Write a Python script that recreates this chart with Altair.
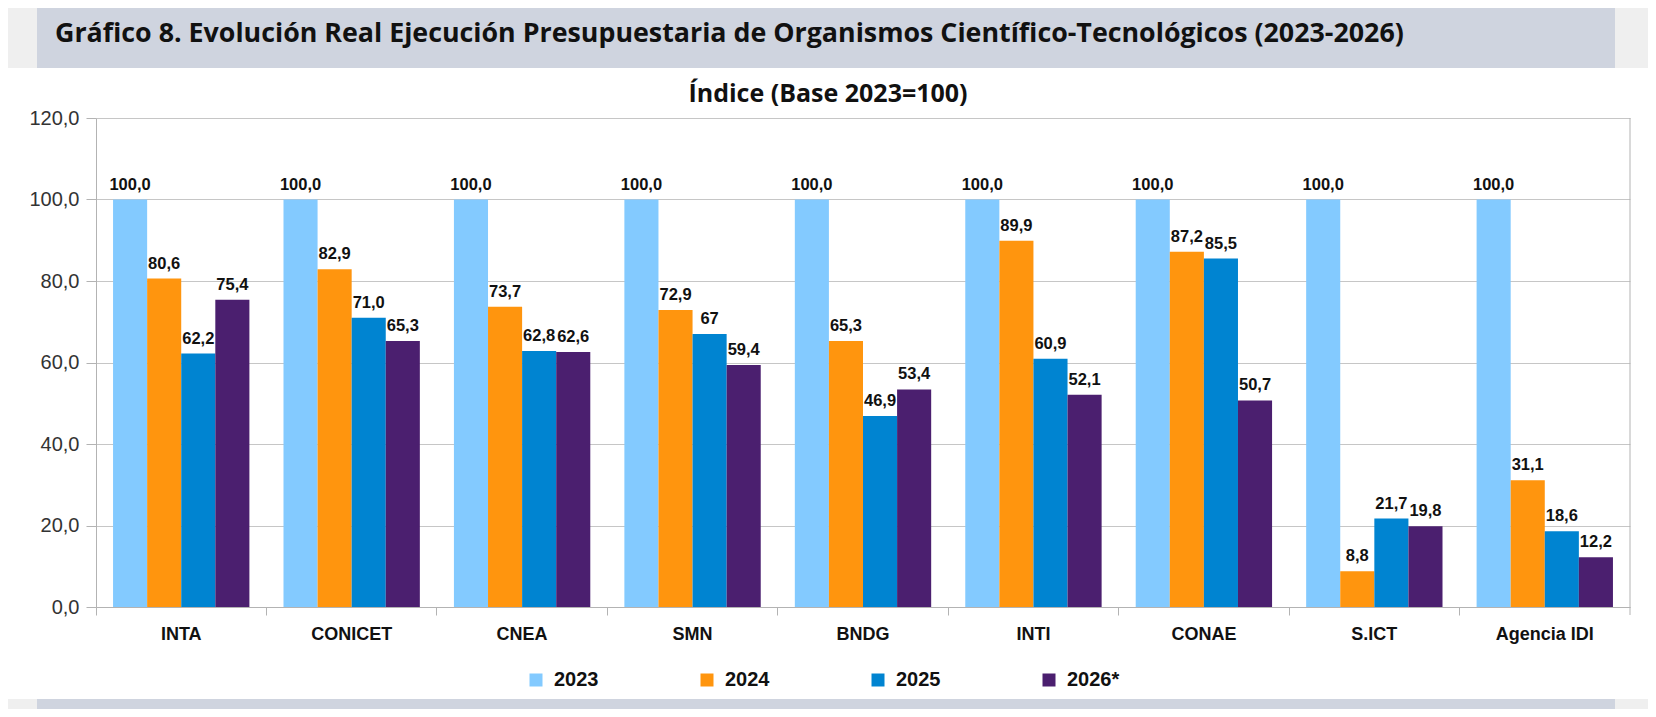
import altair as alt
import pandas as pd

# organismos y años
orgs = ["INTA", "CONICET", "CNEA", "SMN", "BNDG", "INTI", "CONAE", "S.ICT", "Agencia IDI"]
years = ["2023", "2024", "2025", "2026*"]
colors = ["#83caff", "#ff950e", "#0084d1", "#4b1f6f"]

# indice base 2023 = 100 (el 67 de SMN viene sin decimal en el original)
v2023 = [100.0, 100.0, 100.0, 100.0, 100.0, 100.0, 100.0, 100.0, 100.0]
v2024 = [80.6, 82.9, 73.7, 72.9, 65.3, 89.9, 87.2, 8.8, 31.1]
v2025 = [62.2, 71.0, 62.8, 67, 46.9, 60.9, 85.5, 21.7, 18.6]
v2026 = [75.4, 65.3, 62.6, 59.4, 53.4, 52.1, 50.7, 19.8, 12.2]

titulo = "Gráfico 8. Evolución Real Ejecución Presupuestaria de Organismos Científico-Tecnológicos (2023-2026)"
subtitulo = "Índice (Base 2023=100)"


def etiqueta(v):
    if isinstance(v, int):
        return str(v)
    return f"{v:.1f}".replace(".", ",")


rows = []
for serie, year in zip([v2023, v2024, v2025, v2026], years):
    for org, v in zip(orgs, serie):
        rows.append({"org": org, "year": year, "value": float(v), "label": etiqueta(v)})
df = pd.DataFrame(rows)
one = pd.DataFrame({"k": [0]})

W, H = 1534, 489

# fondo: franjas grises arriba y abajo, con las bandas gris azulado encima
gris_sup = alt.Chart(one).mark_rect(color="#efefef").encode(
    x=alt.value(-88), x2=alt.value(1552), y=alt.value(-110), y2=alt.value(-50)
)
gris_inf = alt.Chart(one).mark_rect(color="#efefef").encode(
    x=alt.value(-88), x2=alt.value(1552), y=alt.value(581), y2=alt.value(591)
)
banda_sup = alt.Chart(one).mark_rect(color="#cfd4df").encode(
    x=alt.value(-59), x2=alt.value(1519), y=alt.value(-110), y2=alt.value(-50)
)
banda_inf = alt.Chart(one).mark_rect(color="#cfd4df").encode(
    x=alt.value(-59), x2=alt.value(1519), y=alt.value(581), y2=alt.value(591)
)
txt_titulo = alt.Chart(one).mark_text(
    align="left", baseline="alphabetic", font="Open Sans", fontSize=26.8,
    fontWeight="bold", color="#111111"
).encode(x=alt.value(-41), y=alt.value(-76), text=alt.value(titulo))
txt_sub = alt.Chart(one).mark_text(
    align="center", baseline="alphabetic", font="Open Sans", fontSize=25,
    fontWeight="bold", color="#111111"
).encode(x=alt.value(732), y=alt.value(-16), text=alt.value(subtitulo))
borde_der = alt.Chart(one).mark_rule(color="#b3b3b3").encode(
    x=alt.value(W), y=alt.value(0), y2=alt.value(H + 8)
)

x_enc = alt.X(
    "org:N", sort=orgs, title=None,
    scale=alt.Scale(paddingInner=0, paddingOuter=0),
    axis=alt.Axis(
        bandPosition=0, labelAngle=0, tickSize=8,
        labelFont="Liberation Sans", labelFontSize=18, labelFontWeight="bold",
        labelColor="#111111", labelPadding=10, domainColor="#b3b3b3",
        tickColor="#b3b3b3", grid=False
    )
)
xoff = alt.XOffset("year:N", sort=years, scale=alt.Scale(paddingInner=0, paddingOuter=0.5))
y_enc = alt.Y(
    "value:Q", title=None,
    scale=alt.Scale(domain=[0, 120], nice=False),
    axis=alt.Axis(
        values=[0, 20, 40, 60, 80, 100, 120],
        labelExpr="replace(format(datum.value, '.1f'), '.', ',')",
        labelFont="Liberation Sans", labelFontSize=20, labelColor="#333333",
        labelPadding=7, tickSize=10, tickColor="#b3b3b3", domainColor="#b3b3b3",
        gridColor="#c6c6c6"
    )
)

barras = alt.Chart(df).mark_bar().encode(
    x=x_enc, xOffset=xoff, y=y_enc,
    color=alt.Color(
        "year:N", sort=years,
        scale=alt.Scale(domain=years, range=colors),
        legend=alt.Legend(
            title=None, orient="none", direction="horizontal",
            legendX=430, legendY=552, symbolType="square", symbolSize=169,
            symbolStrokeWidth=0, labelFont="Liberation Sans", labelFontSize=20,
            labelFontWeight="bold", labelColor="#111111", labelOffset=8,
            columnPadding=98
        )
    )
)

etiquetas = alt.Chart(df).mark_text(
    baseline="alphabetic", dy=-10, font="Liberation Sans", fontSize=16.5,
    fontWeight="bold", color="#111111"
).encode(x=alt.X("org:N", sort=orgs), xOffset=xoff, y="value:Q", text="label:N")

chart = alt.layer(
    gris_sup, gris_inf, banda_sup, banda_inf, txt_titulo, txt_sub,
    barras, etiquetas, borde_der
).properties(
    width=W, height=H,
    autosize=alt.AutoSizeParams(type="none"),
    padding={"left": 88, "top": 110, "right": 18, "bottom": 102},
    background="white"
).configure_view(strokeWidth=0)

chart.save("out.html", embed_options={"renderer": "svg", "actions": False})
